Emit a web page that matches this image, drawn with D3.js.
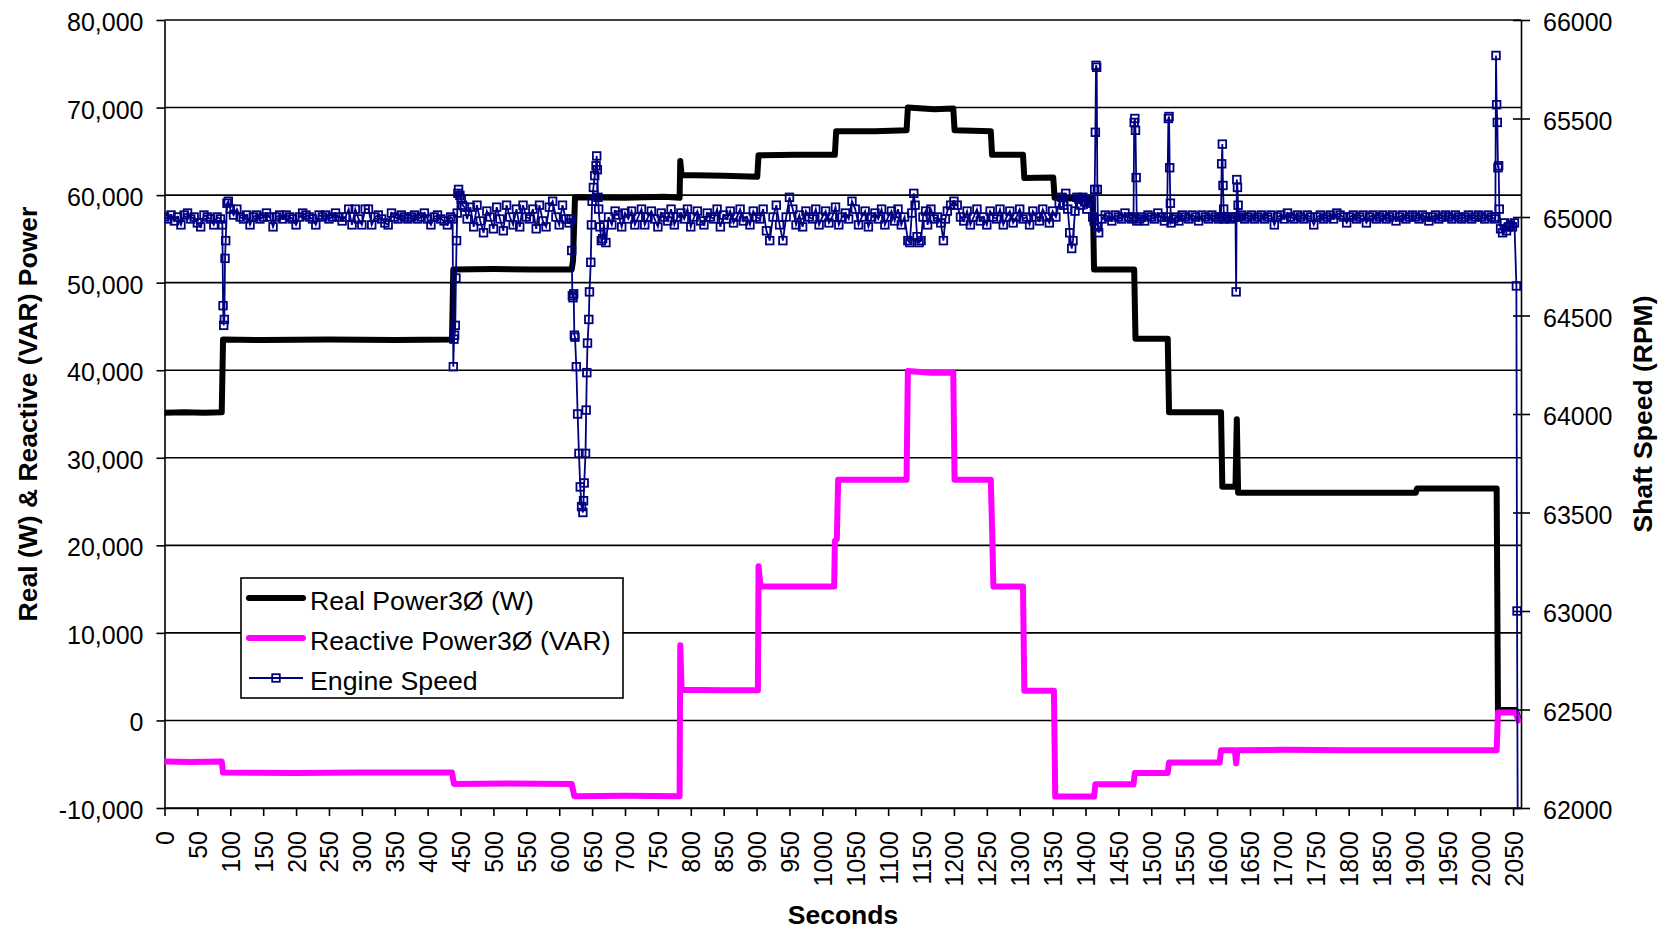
<!DOCTYPE html>
<html><head><meta charset="utf-8">
<script src="https://cdn.jsdelivr.net/npm/d3@7"></script>
<style>
body{margin:0;background:#fff}
svg{display:block}
text{font-family:Arial,"Liberation Sans",sans-serif;fill:#000}
</style>
</head><body>
<svg id="c" width="1671" height="932"></svg>
<script>
// ---------------- DATA ----------------
const powerTicks = [-10000, 0, 10000, 20000, 30000, 40000, 50000, 60000, 70000, 80000];
const speedTicks = [62000, 62500, 63000, 63500, 64000, 64500, 65000, 65500, 66000];
const secondTicks = [0,50,100,150,200,250,300,350,400,450,500,550,600,650,700,750,800,850,900,950,1000,1050,1100,1150,1200,1250,1300,1350,1400,1450,1500,1550,1600,1650,1700,1750,1800,1850,1900,1950,2000,2050];
const seriesNames = ["Real Power3\u00D8 (W)", "Reactive Power3\u00D8 (VAR)", "Engine Speed"];

// [seconds, watts]
const realPower = [[0,35150],[30,35200],[60,35150],[87,35200],[89,43500],[150,43450],[250,43500],[350,43450],[437,43500],[439,51500],[500,51550],[560,51500],[619,51500],[621,52500],[624,59750],[700,59700],[760,59800],[783,59700],[784,63900],[786,62300],[850,62200],[901,62100],[903,64550],[960,64600],[1019,64600],[1021,67300],[1080,67300],[1128,67400],[1130,70000],[1170,69800],[1199,69900],[1201,67400],[1256,67300],[1258,64600],[1305,64600],[1307,61950],[1351,62000],[1353,59700],[1380,59600],[1411,59700],[1413,51500],[1474,51500],[1476,43600],[1525,43600],[1527,35200],[1606,35200],[1608,26700],[1628,26700],[1630,34400],[1632,26000],[1700,26000],[1800,26000],[1902,26000],[1904,26500],[1960,26500],[2025,26500],[2027,1200],[2054,1200],[2058,200]];

// [seconds, VAR]
const reactivePower = [[0,-4700],[40,-4750],[87,-4700],[89,-5950],[200,-6000],[300,-5950],[437,-5950],[440,-7250],[520,-7200],[619,-7250],[623,-8650],[700,-8600],[783,-8650],[784,8600],[786,3500],[850,3450],[902,3450],[903,17600],[906,15300],[960,15300],[1018,15300],[1019,20500],[1022,20700],[1024,27500],[1080,27500],[1128,27500],[1130,39900],[1165,39700],[1199,39700],[1201,27500],[1256,27500],[1258,22000],[1260,15300],[1305,15300],[1307,3400],[1352,3400],[1354,-8700],[1413,-8700],[1415,-7300],[1473,-7300],[1475,-6000],[1525,-6000],[1527,-4800],[1604,-4800],[1606,-3400],[1627,-3400],[1629,-4900],[1631,-3400],[1700,-3350],[1800,-3400],[1900,-3400],[2025,-3400],[2027,900],[2054,900],[2058,0]];

// [seconds, RPM]
const engineSpeed = [
[0,65000],[5,64990],[10,65010],[15,64980],[20,65000],[25,64960],[30,65010],[35,65020],[40,64990],[45,65000],[50,64970],[55,64950],[60,65010],[65,65000],[70,64990],[75,64960],[80,65000],[85,64990],
[88,64960],[89,64550],[90,64450],[91,64480],[92,64790],[93,64880],[95,65070],[97,65080],[100,65040],
[105,65010],[110,65040],[115,65000],[120,64990],[125,65010],[130,64960],[135,65000],[140,65010],[145,64990],[150,65000],[155,65020],[160,65000],[165,64950],[170,65000],[175,65010],[180,64990],[185,65010],[190,65000],[195,64990],[200,64960],[205,65000],[210,65020],[215,65010],[220,65000],[225,64990],[230,64960],[235,65010],[240,65000],[245,65010],[250,64990],[255,65000],[260,65020],[265,65000],[270,64980],[275,65000],[280,65040],[285,64960],[290,65040],[295,64990],[300,64960],[305,65040],[310,65040],[315,64960],[320,65000],[325,65010],[330,64990],[335,64970],[340,64960],[345,65020],[350,65000],[355,64990],[360,65010],[365,65000],[370,64990],[375,65000],[380,65010],[385,64990],[390,65000],[395,65020],[400,64990],[405,64960],[410,65000],[415,65010],[420,64990],[425,64980],[430,64960],[435,65000],
[438,64990],[439,64240],[440,64380],[441,64400],[442,64450],[443,64690],[444,64880],[445,65020],[446,65120],[447,65140],[449,65110],[451,65090],[453,65060],[456,65050],
[460,64990],[465,65050],[470,64950],[475,65060],[480,64980],[485,64920],[490,65030],[495,65000],[500,64940],[505,65050],[510,64990],[515,64930],[520,65060],[525,65000],[530,64960],[535,65040],[540,64950],[545,65060],[550,65000],[555,64990],[560,65040],[565,64940],[570,65060],[575,64980],[580,64950],[585,65050],[590,65080],[595,65000],[600,64960],[605,65060],[610,64990],[615,64970],[618,64990],
[619,64830],[620,64600],[621,64590],[622,64610],[623,64400],[624,64390],[626,64240],[628,64000],[630,63800],[632,63630],[634,63530],[636,63500],[637,63560],[638,63650],[640,63800],[641,64020],[642,64210],[643,64360],[645,64480],[646,64620],[648,64770],[649,64960],[650,65080],[652,65150],[654,65210],[656,65260],[657,65310],[658,65240],[659,65100],[660,65040],[662,64950],[664,64880],[666,64890],[668,64960],[671,64870],
[675,65000],[680,64960],[685,65030],[690,65010],[695,64950],[700,65020],[705,64990],[710,65030],[715,64960],[720,65000],[725,65040],[730,64960],[735,65000],[740,65030],[745,64990],[750,64950],[755,65020],[760,65000],[765,64980],[770,65040],[775,64960],[780,65000],[785,65020],[790,64990],[795,65040],[800,64950],[805,65000],[810,65030],[815,64980],[820,64960],[825,65020],[830,65000],[835,64990],[840,65040],[845,64950],[850,65010],[855,64990],[860,65030],[865,64970],[870,65000],[875,65040],[880,64980],[885,65000],[890,64960],[895,65030],[900,65000],[905,64990],[910,65040],[915,64930],[920,64880],[925,65000],[930,65060],[935,64960],[940,64880],[945,65000],[950,65100],[955,65040],[960,64960],[965,65010],[970,64950],[975,65030],[980,65000],[985,64990],[990,65040],[995,64960],[1000,65000],[1005,65030],[1010,64970],[1015,65000],[1020,65050],[1025,64960],[1030,65000],[1035,65020],[1040,64990],[1045,65080],[1050,65040],[1055,64960],[1060,65000],[1065,65030],[1070,64950],[1075,65000],[1080,65020],[1085,64990],[1090,65040],[1095,64960],[1100,65000],[1105,65030],[1110,64980],[1115,65040],[1120,64960],[1125,65000],[1130,64880],[1133,64870],[1136,65020],[1139,65120],[1141,65060],[1144,64900],[1147,64870],[1150,64880],[1153,65000],[1157,65030],[1160,64960],[1165,65040],[1170,64990],[1175,65000],[1180,64970],[1184,64880],[1187,64990],[1190,65030],[1195,65060],[1200,65080],[1205,65060],[1210,65000],[1215,64980],[1220,65030],[1225,64960],[1230,65000],[1235,65040],[1240,64980],[1245,65000],[1250,64960],[1255,65030],[1260,65000],[1265,64990],[1270,65040],[1275,64960],[1280,65000],[1285,65030],[1290,64970],[1295,65000],[1300,65040],[1305,64990],[1310,65000],[1315,64960],[1320,65030],[1325,65000],[1330,64980],[1335,65040],[1340,65000],[1345,64970],[1350,65030],[1355,65000],[1360,65070],[1364,65100],[1367,65060],[1370,65120],[1373,65040],[1376,64920],[1379,64840],[1381,64880],[1384,65030],[1387,65100],[1390,65090],[1393,65060],[1396,65100],[1399,65080],[1402,65040],[1405,65090],[1408,65070],[1411,65000],[1413,64980],
[1414,65140],[1415,65430],[1416,65770],[1417,65760],[1418,65140],[1419,64950],[1420,64920],
[1425,64990],[1430,65010],[1435,65000],[1440,64980],[1445,65010],[1450,65000],[1455,64990],[1460,65020],[1465,65000],[1470,64990],
[1473,65000],[1474,65480],[1475,65500],[1476,65440],[1477,65200],[1478,64980],
[1482,64990],[1486,65000],[1490,64980],[1495,65010],[1500,65000],[1505,64990],[1510,65020],[1515,65000],[1520,64980],[1524,65000],
[1526,65500],[1527,65510],[1528,65250],[1529,65070],[1530,64970],
[1534,64990],[1538,65000],[1542,64980],[1547,65010],[1552,65000],[1557,64990],[1562,65010],[1567,65000],[1572,64980],[1577,65010],[1582,65000],[1587,64990],[1592,65010],[1597,65000],[1602,64990],[1606,65000],
[1607,65270],[1608,65370],[1609,65160],[1610,65040],[1611,64990],
[1615,65000],[1620,64990],[1625,65000],[1628,65000],
[1629,64620],[1630,65190],[1631,65150],[1632,65060],[1633,65000],
[1637,65010],[1642,64990],[1647,65000],[1652,65010],[1657,64990],[1662,65000],[1667,65010],[1672,64990],[1677,65000],[1682,65010],[1687,64960],[1692,65000],[1697,65010],[1702,64990],[1707,65020],[1712,65000],[1717,64990],[1722,65010],[1727,65000],[1732,64990],[1737,65010],[1742,65000],[1747,64960],[1752,65000],[1757,65010],[1762,64990],[1767,65000],[1772,65010],[1777,64990],[1782,65020],[1787,65010],[1792,65000],[1797,64970],[1802,65000],[1807,65010],[1812,64990],[1817,65000],[1822,65010],[1827,64970],[1832,65000],[1837,65010],[1842,64990],[1847,65000],[1852,65010],[1857,64990],[1862,65000],[1867,65010],[1872,64980],[1877,65000],[1882,65010],[1887,64990],[1892,65000],[1897,65010],[1902,65000],[1907,64990],[1912,65010],[1917,65000],[1922,64980],[1927,65000],[1932,65010],[1937,64990],[1942,65000],[1947,65010],[1952,65000],[1957,64990],[1962,65010],[1967,65000],[1972,64990],[1977,65000],[1982,65010],[1987,64990],[1992,65000],[1997,65010],[2002,65000],[2007,64990],[2012,65010],[2017,65000],[2022,64990],
[2023,65000],[2024,65820],[2025,65570],[2026,65480],[2027,65250],[2028,65260],[2029,65040],[2031,64940],[2034,64920],[2037,64970],[2040,64930],[2043,64950],[2046,64960],[2049,64950],[2052,64970],[2055,64650],[2056,63000],[2057,61900]
];

// ---------------- CHART ----------------
const M = {left:164.5, right:1521, top:20, bottom:808};
const svg = d3.select("#c");
const x = d3.scaleLinear().domain([0, 2062]).range([M.left, M.right]);
const yL = d3.scaleLinear().domain([-10000, 80000]).range([M.bottom, M.top]);
const yR = d3.scaleLinear().domain([62000, 66000]).range([M.bottom, M.top]);
const fmt = d3.formatLocale({decimal:".", thousands:",", grouping:[3], currency:["",""], minus:"-"}).format(",");

svg.append("rect").attr("width",1671).attr("height",932).attr("fill","#fff");

svg.append("defs").append("clipPath").attr("id","plot")
  .append("rect").attr("x",M.left).attr("y",M.top).attr("width",M.right-M.left).attr("height",M.bottom-M.top);

// gridlines
svg.append("g").selectAll("line").data(powerTicks).join("line")
  .attr("x1",M.left).attr("x2",M.right)
  .attr("y1",d=>yL(d)).attr("y2",d=>yL(d))
  .attr("stroke","#000").attr("stroke-width",1.6);

// left axis
const gL = svg.append("g").attr("transform",`translate(${M.left},0)`)
  .call(d3.axisLeft(yL).tickValues(powerTicks).tickFormat(fmt).tickSize(8).tickSizeOuter(0).tickPadding(13));
// right axis
const gR = svg.append("g").attr("transform",`translate(${M.right},0)`)
  .call(d3.axisRight(yR).tickValues(speedTicks).tickFormat(d3.format("d")).tickSize(9).tickSizeOuter(0).tickPadding(13));
gR.selectAll(".tick line").attr("x1",-8);
// bottom axis
const gB = svg.append("g").attr("transform",`translate(0,${M.bottom})`)
  .call(d3.axisBottom(x).tickValues(secondTicks).tickFormat(d3.format("d")).tickSize(8).tickSizeOuter(0));
gB.selectAll(".tick text")
  .attr("transform","translate(0,23) rotate(-90)")
  .attr("x",0).attr("y",0).attr("dy","0.36em").attr("text-anchor","end");

[gL,gR,gB].forEach(g=>{
  g.selectAll("path.domain").attr("stroke","#000").attr("stroke-width",1.6);
  g.selectAll(".tick line").attr("stroke","#000").attr("stroke-width",1.6);
  g.selectAll(".tick text").attr("font-size",25).attr("font-family","Arial, 'Liberation Sans', sans-serif").attr("fill","#000");
});
gL.selectAll(".tick text").attr("dy","0.42em");
gR.selectAll(".tick text").attr("dy","0.42em");

// series
const plot = svg.append("g").attr("clip-path","url(#plot)");
const lineL = d3.line().x(d=>x(d[0])).y(d=>yL(d[1]));
const lineR = d3.line().x(d=>x(d[0])).y(d=>yR(d[1]));

plot.append("path").datum(realPower).attr("d",lineL)
  .attr("fill","none").attr("stroke","#000").attr("stroke-width",6)
  .attr("stroke-linejoin","round").attr("stroke-linecap","round");
plot.append("path").datum(reactivePower).attr("d",lineL)
  .attr("fill","none").attr("stroke","#FF00FF").attr("stroke-width",6)
  .attr("stroke-linejoin","round").attr("stroke-linecap","round");
plot.append("path").datum(engineSpeed).attr("d",lineR)
  .attr("fill","none").attr("stroke","#000080").attr("stroke-width",1.8);
plot.append("g").selectAll("rect").data(engineSpeed).join("rect")
  .attr("x",d=>x(d[0])-3.8).attr("y",d=>yR(d[1])-3.8)
  .attr("width",7.6).attr("height",7.6)
  .attr("fill","none").attr("stroke","#000080").attr("stroke-width",1.8);

// axis titles
svg.append("text").attr("x",843).attr("y",924).attr("text-anchor","middle")
  .attr("font-size",26.5).attr("font-weight","bold").text("Seconds");
svg.append("text").attr("transform","translate(27,414) rotate(-90)").attr("dy","0.36em")
  .attr("text-anchor","middle").attr("font-size",26.5).attr("font-weight","bold")
  .text("Real (W) & Reactive (VAR) Power");
svg.append("text").attr("transform","translate(1642,414) rotate(-90)").attr("dy","0.36em")
  .attr("text-anchor","middle").attr("font-size",26.5).attr("font-weight","bold")
  .text("Shaft Speed (RPM)");

// legend
const lg = svg.append("g");
lg.append("rect").attr("x",241).attr("y",578).attr("width",382).attr("height",120)
  .attr("fill","#fff").attr("stroke","#000").attr("stroke-width",1.6);
const legendStyles = [
  {color:"#000", width:6, marker:false},
  {color:"#FF00FF", width:6, marker:false},
  {color:"#000080", width:1.8, marker:true}
];
seriesNames.forEach((name,i)=>{
  const cy = 598 + i*40;
  const st = legendStyles[i];
  lg.append("line").attr("x1",249).attr("x2",303).attr("y1",cy).attr("y2",cy)
    .attr("stroke",st.color).attr("stroke-width",st.width).attr("stroke-linecap",st.marker?"butt":"round");
  if(st.marker){
    lg.append("rect").attr("x",276-3.8).attr("y",cy-3.8).attr("width",7.6).attr("height",7.6)
      .attr("fill","none").attr("stroke",st.color).attr("stroke-width",1.8);
  }
  lg.append("text").attr("x",310).attr("y",cy+11.5).attr("font-size",26.7).text(name);
});
</script>
</body></html>
